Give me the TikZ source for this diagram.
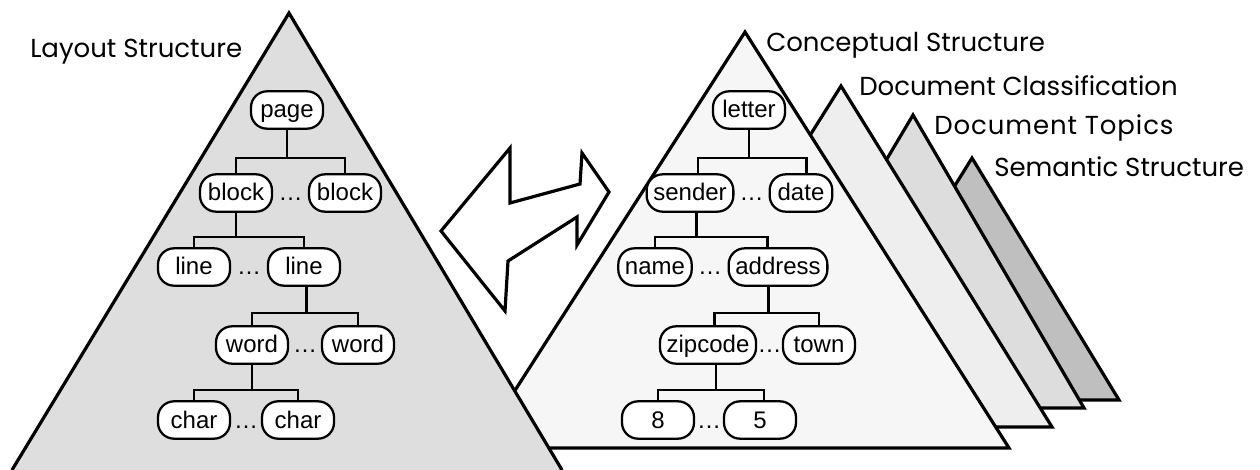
\documentclass[tikz,border=0pt]{standalone}
\usepackage{fontspec}
\setmainfont{Liberation Sans}
\newfontfamily\lblfont{Poppins}
\usetikzlibrary{calc}
\definecolor{layoutfill}{HTML}{DEDEDE}
\definecolor{conceptfill}{HTML}{F6F6F6}
\definecolor{classfill}{HTML}{EEEEEE}
\definecolor{topicfill}{HTML}{DDDDDD}
\definecolor{semanticfill}{HTML}{BFBFBF}
\tikzset{
    tnode/.style={draw, fill=white, line width=1.7pt, rectangle, rounded corners=12pt, minimum width=54pt, minimum height=28pt, inner xsep=5pt, inner ysep=0pt, text height=13pt, text depth=1pt, font=\fontsize{18}{21}\selectfont},
    gapdots/.style={anchor=base, inner sep=0pt, font=\fontsize{18}{21}\selectfont},
    conn/.style={line width=1.8pt},
    pyramid/.style={line width=2.4pt},
    lbl/.style={anchor=base west, inner sep=0pt, font=\lblfont\fontsize{19.5}{23}\selectfont},
}

\begin{document}
\begin{tikzpicture}[x=0.75pt,y=0.75pt,yscale=-1,xscale=1]
\useasboundingbox (0,0) rectangle (1260,470);

%Shape: Triangle [Semantic Structure]
\draw [pyramid, fill=semanticfill] (822,400) -- (972,158) -- (1119,400) -- cycle ;
%Shape: Triangle [Document Topics]
\draw [pyramid, fill=topicfill] (739,408) -- (913,115) -- (1084,408) -- cycle ;
%Shape: Triangle [Document Classification]
\draw [pyramid, fill=classfill] (627,427) -- (841,86) -- (1052,427) -- cycle ;
%Shape: Triangle [Conceptual Structure]
\draw [pyramid, fill=conceptfill] (478,448) -- (745,32) -- (1009,448) -- cycle ;
%Shape: Triangle [Layout Structure], open at the bottom
\fill [layoutfill] (12,470) -- (289,13) -- (562,470) -- cycle ;
\draw [pyramid] (12,470) -- (289,13) -- (562,470) ;

%Shape: Double Arrow
\draw [pyramid, fill=white] (441,231) -- (510,148) -- (510,203) -- (580,184) -- (582,153) -- (609,192) -- (577,245) -- (577,217) -- (508,261) -- (505,311) -- cycle ;

% Text Node
\draw (30,58) node [lbl] (layoutLbl) {Layout Structure};
% Text Node
\draw (766,52) node [lbl] (conceptLbl) {Conceptual Structure};
% Text Node
\draw (859,96) node [lbl] (classLbl) {Document Classification};
% Text Node
\draw (934,135) node [lbl] (topicLbl) {\addfontfeature{LetterSpace=3.5}Document Topics};
% Text Node
\draw (994,177) node [lbl] (semanticLbl) {Semantic Structure};

% Layout tree
\draw (287,110) node [tnode] (page) {page};
\draw (236,193) node [tnode] (blockA) {block};
\draw (345,193) node [tnode] (blockB) {block};
\draw (194,267) node [tnode] (lineA) {line};
\draw (304,267) node [tnode] (lineB) {line};
\draw (252,345) node [tnode] (wordA) {word};
\draw (358,345) node [tnode] (wordB) {word};
\draw (194,420) node [tnode] (charA) {char};
\draw (298,420) node [tnode] (charB) {char};

\draw ($(blockA.base east)!0.5!(blockB.base west)$) node [gapdots] (blockDots) {\ldots};
\draw ($(lineA.base east)!0.5!(lineB.base west)$) node [gapdots] (lineDots) {\ldots};
\draw ($(wordA.base east)!0.5!(wordB.base west)$) node [gapdots] (wordDots) {\ldots};
\draw ($(charA.base east)!0.5!(charB.base west)$) node [gapdots] (charDots) {\ldots};

\draw [conn] (page.south) -- ++(0,28) coordinate (pageJ) ;
\draw [conn] (blockA.north) |- (pageJ) -| (blockB.north) ;
\draw [conn] (blockA.south) -- ++(0,24) coordinate (blockJ) ;
\draw [conn] (lineA.north) |- (blockJ) -| (lineB.north) ;
\draw [conn] ([xshift=2pt]lineB.south) -- ++(0,26) coordinate (lineJ) ;
\draw [conn] (wordA.north) |- (lineJ) -| (wordB.north) ;
\draw [conn] (wordA.south) -- ++(0,25) coordinate (wordJ) ;
\draw [conn] (charA.north) |- (wordJ) -| (charB.north) ;

% Conceptual tree
\draw (749,110) node [tnode] (letter) {letter};
\draw (690,193) node [tnode] (sender) {sender};
\draw (801,193) node [tnode, minimum width=47pt] (date) {date};
\draw (655,267) node [tnode] (name) {name};
\draw (778,267) node [tnode] (address) {address};
\draw (708,345) node [tnode] (zipcode) {zipcode};
\draw (819,345) node [tnode] (town) {town};
\draw (658,420) node [tnode] (eight) {8};
\draw (760,420) node [tnode] (five) {5};

\draw ($(sender.base east)!0.5!(date.base west)$) node [gapdots] (senderDots) {\ldots};
\draw ($(name.base east)!0.5!(address.base west)$) node [gapdots] (nameDots) {\ldots};
\draw ($(zipcode.base east)!0.5!(town.base west)$) node [gapdots] (zipDots) {\ldots};
\draw ($(eight.base east)!0.5!(five.base west)$) node [gapdots] (digitDots) {\ldots};

\draw [conn] (letter.south) -- ++(0,28) coordinate (letterJ) ;
\draw [conn] ([xshift=6pt]sender.north) |- (letterJ) -| ([xshift=4pt]date.north) ;
\draw [conn] ([xshift=5pt]sender.south) -- ++(0,24) coordinate (senderJ) ;
\draw [conn] (name.north) |- (senderJ) -| ([xshift=-8pt]address.north) ;
\draw [conn] ([xshift=-7pt]address.south) -- ++(0,26) coordinate (addressJ) ;
\draw [conn] ([xshift=5pt]zipcode.north) |- (addressJ) -| (town.north) ;
\draw [conn] ([xshift=6pt]zipcode.south) -- ++(0,25) coordinate (zipJ) ;
\draw [conn] (eight.north) |- (zipJ) -| ([xshift=3pt]five.north) ;

\end{tikzpicture}
\end{document}
